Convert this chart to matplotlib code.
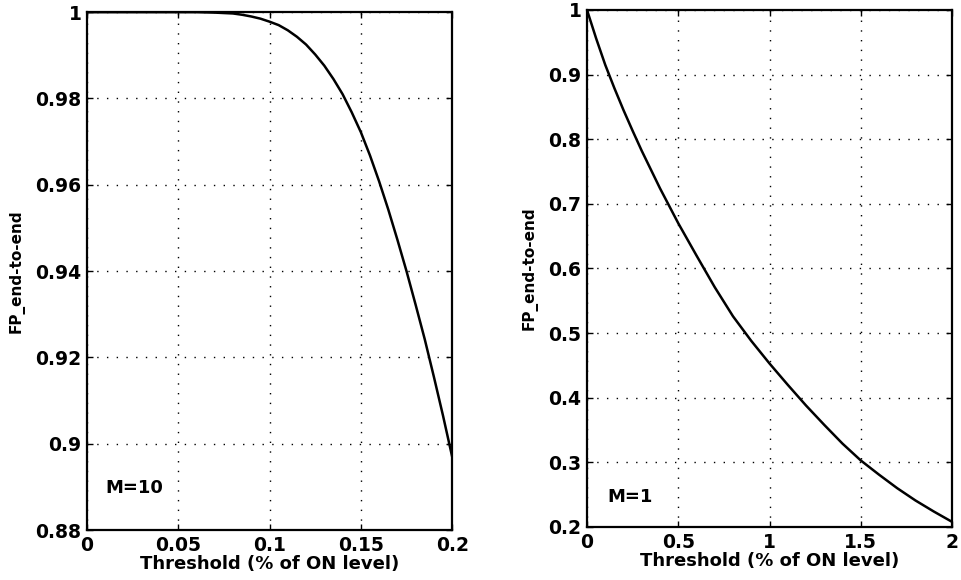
import matplotlib
matplotlib.use("Agg")
import matplotlib.pyplot as plt
from matplotlib.ticker import FuncFormatter

plt.rcParams['font.family'] = ['DejaVu Sans']

# Left panel (M=10)
x_left = [0.0, 0.02, 0.04, 0.06, 0.07, 0.08, 0.085, 0.09, 0.095, 0.10, 0.105,
          0.11, 0.115, 0.12, 0.125, 0.13, 0.135, 0.14, 0.145, 0.15, 0.155,
          0.16, 0.165, 0.17, 0.175, 0.18, 0.185, 0.19, 0.195, 0.20]
y_left = [1.0, 1.0, 1.0, 1.0, 0.9999, 0.9997, 0.9994, 0.999, 0.9985, 0.9978,
          0.997, 0.9958, 0.9943, 0.9925, 0.9902, 0.9876, 0.9845, 0.981,
          0.9768, 0.9722, 0.9668, 0.9608, 0.9543, 0.9473, 0.940, 0.9322,
          0.9242, 0.9155, 0.9065, 0.897]

# Right panel (M=1)
x_right = [0.0, 0.05, 0.1, 0.15, 0.2, 0.25, 0.3, 0.4, 0.5, 0.6, 0.7, 0.8, 0.9,
           1.0, 1.1, 1.2, 1.3, 1.4, 1.5, 1.6, 1.7, 1.8, 1.9, 2.0]
y_right = [1.0, 0.956, 0.915, 0.879, 0.845, 0.813, 0.782, 0.724, 0.670,
           0.620, 0.571, 0.526, 0.488, 0.453, 0.420, 0.388, 0.358, 0.329,
           0.303, 0.281, 0.260, 0.241, 0.224, 0.208]

left_xticks = [0, 0.05, 0.1, 0.15, 0.2]
left_yticks = [0.88, 0.9, 0.92, 0.94, 0.96, 0.98, 1.0]
right_xticks = [0, 0.5, 1, 1.5, 2]
right_yticks = [0.2, 0.3, 0.4, 0.5, 0.6, 0.7, 0.8, 0.9, 1.0]

xlabel = "Threshold (% of ON level)"
ylabel = "FP_end-to-end"

fig = plt.figure(figsize=(9.62, 5.8), dpi=100)
axL = fig.add_axes([0.0904, 0.0862, 0.3796, 0.8928])
axR = fig.add_axes([0.6102, 0.0914, 0.3794, 0.8914])

fmt = FuncFormatter(lambda v, p: ('%g' % round(v, 4)))

def style(ax, xt, yt, xl, yl, ylab_x):
    ax.set_xlim(*xl)
    ax.set_ylim(*yl)
    ax.set_xticks(xt)
    ax.set_yticks(yt)
    ax.xaxis.set_major_formatter(fmt)
    ax.yaxis.set_major_formatter(fmt)
    ax.tick_params(direction='in', top=True, right=True, length=4, width=1,
                   labelsize=13.5, pad=4)
    for lab in ax.get_xticklabels() + ax.get_yticklabels():
        lab.set_fontweight('bold')
    ax.grid(True, linestyle=(0, (1, 6)), color='black', linewidth=1.0)
    for s in ax.spines.values():
        s.set_linewidth(1.6)
    ax.set_xlabel(xlabel, fontsize=13, fontweight='bold', labelpad=0)
    ax.set_ylabel(ylabel, fontsize=11, fontweight='bold')
    ax.yaxis.set_label_coords(ylab_x, 0.5)

axL.plot(x_left, y_left, color='black', linewidth=1.8)
style(axL, left_xticks, left_yticks, (0, 0.2), (0.88, 1.0), -0.17)
axL.text(0.01, 0.8897, "M=10", fontsize=13, fontweight='bold', va='center')

axR.plot(x_right, y_right, color='black', linewidth=1.8)
style(axR, right_xticks, right_yticks, (0, 2), (0.2, 1.0), -0.134)
axR.text(0.11, 0.246, "M=1", fontsize=13, fontweight='bold', va='center')

fig.savefig("out.png", dpi=100)
